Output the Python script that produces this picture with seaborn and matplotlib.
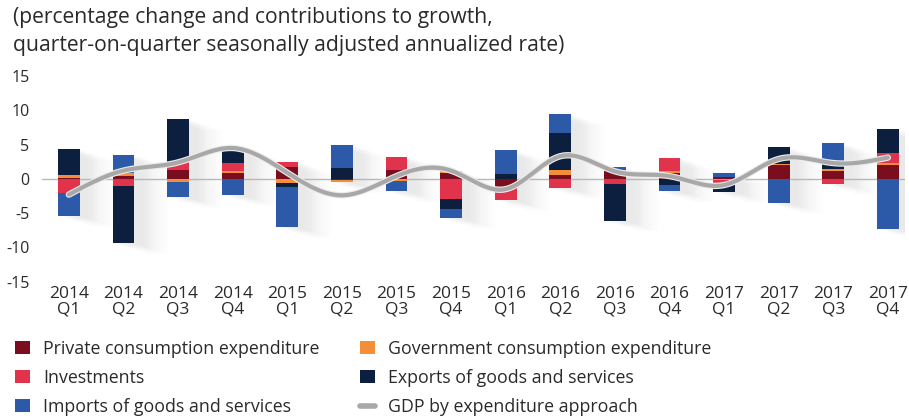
import numpy as np
import pandas as pd
import matplotlib
matplotlib.use("Agg")
import matplotlib.pyplot as plt
import seaborn as sns
from matplotlib.patches import Patch
from matplotlib.lines import Line2D
from matplotlib.transforms import ScaledTranslation
import matplotlib.patheffects as pe

# ---- data: contributions to growth (percentage points) ----
quarters = ["2014\nQ1", "2014\nQ2", "2014\nQ3", "2014\nQ4",
            "2015\nQ1", "2015\nQ2", "2015\nQ3", "2015\nQ4",
            "2016\nQ1", "2016\nQ2", "2016\nQ3", "2016\nQ4",
            "2017\nQ1", "2017\nQ2", "2017\nQ3", "2017\nQ4"]
private = [0.15, 0.4, 1.3, 0.8, 1.7, -0.1, 1.35, 0.9, -1.3, 0.5, 1.1, 0.9, 0.3, 1.95, 1.2, 1.95]
government = [0.4, 0.5, -0.4, 0.3, -0.6, -0.4, -0.3, 0.2, 0.0, 0.85, 0.2, 0.3, -0.2, 0.25, 0.3, 0.4]
investments = [-2.0, -1.1, 1.1, 1.2, 0.8, 0.0, 1.85, -2.9, -1.8, -1.4, -0.8, 1.8, -0.7, 0.0, -0.7, 1.45]
exports = [3.8, -8.3, 6.3, 2.3, -0.6, 1.6, 0.0, -1.45, 0.65, 5.3, -5.3, -0.9, -1.0, 2.4, 0.6, 3.4]
imports = [-3.4, 2.6, -2.3, -2.4, -5.85, 3.4, -1.5, -1.3, 3.5, 2.8, 0.5, -0.9, 0.6, -3.5, 3.1, -7.25]
gdp = [-2.3, 1.2, 2.4, 4.5, 0.9, -2.4, 0.4, 1.2, -1.5, 3.3, 1.1, 0.4, -0.9, 2.9, 2.3, 3.1]

series_names = ["Private consumption expenditure", "Government consumption expenditure",
                "Investments", "Exports of goods and services",
                "Imports of goods and services"]
series_values = [private, government, investments, exports, imports]
series_colors = ["#7a0e1f", "#f48e37", "#e1334b", "#0c1f3e", "#2d5aa8"]
gdp_label = "GDP by expenditure approach"
gdp_color = "#a8a8a8"

sns.set_theme(style="white")
plt.rcParams["font.family"] = ["Open Sans", "DejaVu Sans"]
plt.rcParams["text.color"] = "#2a2a2a"

fig = plt.figure(figsize=(9.09, 4.16), dpi=100)
ax = fig.add_axes([0.046, 0.3228, 0.950, 0.4945])

x = np.arange(len(quarters))
bar_w = 0.40

vals = np.array(series_values, dtype=float)
pos = np.where(vals > 0, vals, 0.0)
neg = np.where(vals < 0, vals, 0.0)
tops = pos.sum(axis=0)
bottoms = neg.sum(axis=0)

# long soft shadow cast down-right by every bar
n_steps = 26
for k in range(n_steps):
    t = (k + 1) / n_steps
    shift = ScaledTranslation(0.40 * t, -0.13 * t, fig.dpi_scale_trans)
    ax.bar(x, tops - bottoms, bar_w, bottom=bottoms, color="#9a9a9a",
           alpha=0.022 * (1 - t) ** 1.2, linewidth=0, zorder=1,
           transform=ax.transData + shift)

ax.axhline(0, color="#b8b8b8", lw=1.0, zorder=1.5)

# stacked contributions: positives upward, negatives downward
pos_base = np.zeros(len(x))
neg_base = np.zeros(len(x))
for name, v, c in zip(series_names, vals, series_colors):
    p = np.where(v > 0, v, 0.0)
    n = np.where(v < 0, v, 0.0)
    ax.bar(x, p, bar_w, bottom=pos_base, color=c, linewidth=0, zorder=2)
    ax.bar(x, n, bar_w, bottom=neg_base, color=c, linewidth=0, zorder=2)
    pos_base += p
    neg_base += n

# smooth GDP curve (natural cubic spline through the quarterly values)
def natural_spline(xk, yk, per=40):
    xk = np.asarray(xk, float)
    yk = np.asarray(yk, float)
    n = len(xk)
    h = np.diff(xk)
    A = np.zeros((n, n))
    b = np.zeros(n)
    A[0, 0] = A[-1, -1] = 1.0
    for i in range(1, n - 1):
        A[i, i - 1] = h[i - 1]
        A[i, i] = 2 * (h[i - 1] + h[i])
        A[i, i + 1] = h[i]
        b[i] = 6 * ((yk[i + 1] - yk[i]) / h[i] - (yk[i] - yk[i - 1]) / h[i - 1])
    M = np.linalg.solve(A, b)
    xs, ys = [], []
    for i in range(n - 1):
        tt = np.linspace(xk[i], xk[i + 1], per, endpoint=(i == n - 2))
        a = xk[i + 1] - tt
        c = tt - xk[i]
        yy = (M[i] * a ** 3 / (6 * h[i]) + M[i + 1] * c ** 3 / (6 * h[i])
              + (yk[i] / h[i] - M[i] * h[i] / 6) * a
              + (yk[i + 1] / h[i] - M[i + 1] * h[i] / 6) * c)
        xs.append(tt)
        ys.append(yy)
    return np.concatenate(xs), np.concatenate(ys)

sx, sy = natural_spline(x, gdp)
curve = pd.DataFrame({"x": sx, "y": sy})
sns.lineplot(data=curve, x="x", y="y", sort=False, estimator=None, ax=ax,
             color=gdp_color, lw=3.0, zorder=4,
             path_effects=[pe.Stroke(linewidth=4.6, foreground="#ececec"), pe.Normal()])
ax.lines[-1].set_solid_capstyle("round")

ax.set_xlim(-0.495, 15.32)
ax.set_ylim(-15, 15)
ax.set_yticks(np.arange(-15, 16, 5))
ax.set_yticklabels([str(v) for v in range(-15, 16, 5)], fontsize=11.5, color="#2a2a2a")
ax.set_xticks(x)
ax.set_xticklabels(quarters, fontsize=12.5, color="#2a2a2a", linespacing=1.0)
ax.tick_params(axis="y", length=0, pad=9)
ax.tick_params(axis="x", length=0, pad=3)
ax.set_xlabel("")
ax.set_ylabel("")
for s in ax.spines.values():
    s.set_visible(False)
ax.grid(False)

fig.text(13 / 909, 1 - 18 / 416, "(percentage change and contributions to growth,",
         fontsize=15.2, va="center", ha="left")
fig.text(13 / 909, 1 - 45 / 416, "quarter-on-quarter seasonally adjusted annualized rate)",
         fontsize=15.2, va="center", ha="left")

def patch(c):
    return Patch(facecolor=c, edgecolor="none")

col1 = [patch(series_colors[0]), patch(series_colors[2]), patch(series_colors[4])]
col1_labels = [series_names[0], series_names[2], series_names[4]]
col2 = [patch(series_colors[1]), patch(series_colors[3]),
        Line2D([0], [0], color=gdp_color, lw=4, solid_capstyle="round")]
col2_labels = [series_names[1], series_names[3], gdp_label]

common = dict(loc="upper left", frameon=False, fontsize=12.8, handlelength=0.85,
              handleheight=0.75, handletextpad=0.75, labelspacing=0.62,
              borderpad=0, borderaxespad=0)
fig.legend(col1, col1_labels, bbox_to_anchor=(15 / 909, 1 - 340 / 416), **common)
fig.legend(col2, col2_labels, bbox_to_anchor=(360 / 909, 1 - 340 / 416), **common)

fig.savefig("out.png", dpi=100, facecolor="white")
